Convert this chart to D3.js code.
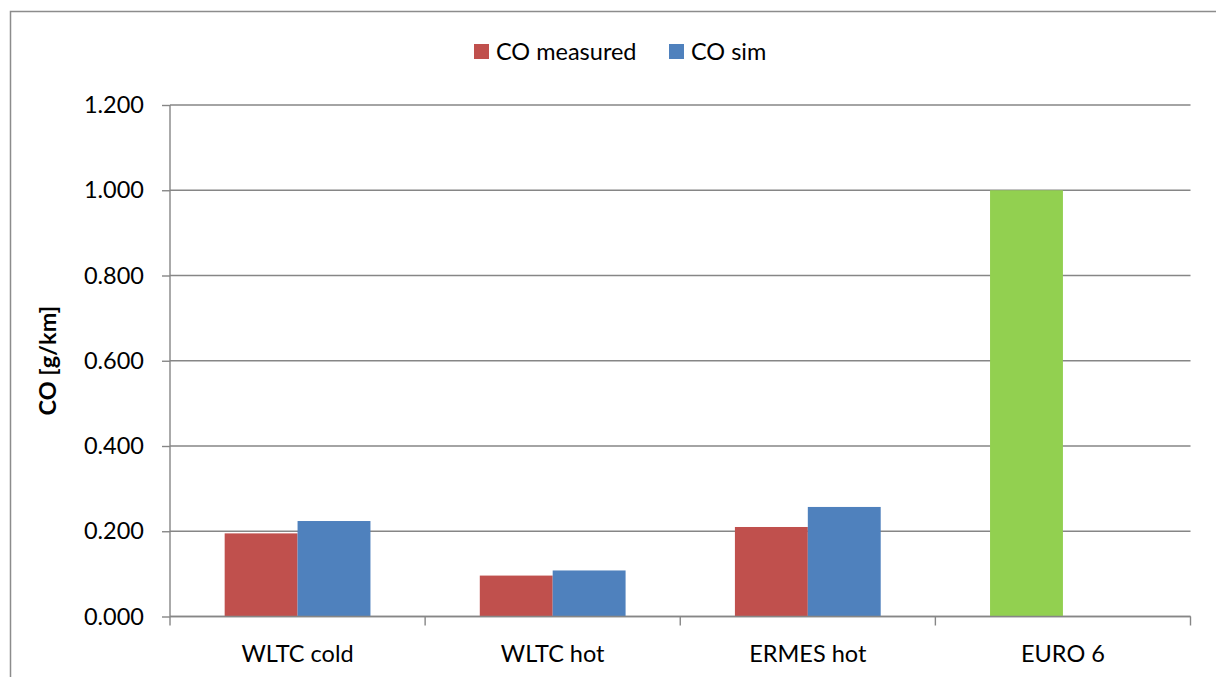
<!DOCTYPE html>
<html>
<head>
<meta charset="utf-8">
<script src="https://cdn.jsdelivr.net/npm/d3@7"></script>
<style>
  html, body { margin: 0; padding: 0; background: #fff; }
  svg { display: block; font-family: Lato, "Open Sans", sans-serif; }
</style>
</head>
<body>
<svg id="chart" width="1216" height="677"></svg>
<script>
// CO emissions per test cycle, g/km
const categories = ["WLTC cold", "WLTC hot", "ERMES hot", "EURO 6"];
const seriesNames = ["CO measured", "CO sim"];
const coMeasured = [0.195, 0.096, 0.210, 1.000];
const coSim = [0.224, 0.108, 0.257, null];
const yTicks = [0, 0.2, 0.4, 0.6, 0.8, 1.0, 1.2];

const seriesColors = ["#c0504d", "#4f81bd"];
const limitColor = "#92d050"; // the EURO 6 limit bar

const svg = d3.select("#chart");
const margin = { left: 170, right: 1190.5, top: 105, bottom: 616.5 };

// outer chart frame (continues past the right and bottom edges)
svg.append("rect")
  .attr("x", 10.5).attr("y", 11.5)
  .attr("width", 1300).attr("height", 800)
  .attr("fill", "none").attr("stroke", "#8c8c8c").attr("stroke-width", 1.5);

const x = d3.scaleBand().domain(categories).range([margin.left, margin.right]).paddingInner(0).paddingOuter(0);
// each category: two bars + gap of 1.5 bar widths
const barW = x.bandwidth() / 3.5;
const xSub = d3.scaleBand().domain(seriesNames)
  .range([x.bandwidth() / 2 - barW, x.bandwidth() / 2 + barW]);

const y = d3.scaleLinear().domain([0, 1.2]).range([margin.bottom, margin.top]);

// gridlines
svg.append("g")
  .selectAll("line").data(yTicks).join("line")
  .attr("x1", margin.left).attr("x2", margin.right)
  .attr("y1", d => y(d)).attr("y2", d => y(d))
  .attr("stroke", "#868686").attr("stroke-width", 1.4);

// bars
const rows = categories.map((c, i) => ({ cat: c, values: [coMeasured[i], coSim[i]] }));
svg.append("g").selectAll("g").data(rows).join("g")
  .attr("transform", d => `translate(${x(d.cat)},0)`)
  .selectAll("rect")
  .data(d => d.values.map((v, j) => ({ cat: d.cat, name: seriesNames[j], v, j })).filter(e => e.v != null))
  .join("rect")
  .attr("x", d => xSub(d.name))
  .attr("width", xSub.bandwidth())
  .attr("y", d => y(d.v))
  .attr("height", d => y(0) - y(d.v))
  .attr("fill", d => d.cat === "EURO 6" ? limitColor : seriesColors[d.j]);

// y axis
const yAxis = d3.axisLeft(y).tickValues(yTicks).tickFormat(d3.format(".3f")).tickSize(8).tickPadding(18);
const gy = svg.append("g").attr("transform", `translate(${margin.left},0)`).call(yAxis);
gy.select(".domain").attr("stroke", "#868686").attr("stroke-width", 1.4).attr("d", `M0,${margin.top}V${margin.bottom}`);
gy.selectAll(".tick line").attr("stroke", "#868686").attr("stroke-width", 1.4);
gy.selectAll(".tick text").attr("font-size", 23.5).attr("fill", "#000").attr("font-family", "Lato");

// x axis: ticks on category boundaries
const boundaries = categories.map(c => x(c)).concat([margin.right]);
svg.append("g").selectAll("line").data(boundaries).join("line")
  .attr("x1", d => d).attr("x2", d => d)
  .attr("y1", margin.bottom).attr("y2", margin.bottom + 9)
  .attr("stroke", "#868686").attr("stroke-width", 1.4);
svg.append("line")
  .attr("x1", margin.left).attr("x2", margin.right)
  .attr("y1", margin.bottom).attr("y2", margin.bottom)
  .attr("stroke", "#868686").attr("stroke-width", 1.4);
svg.append("g").selectAll("text").data(categories).join("text")
  .attr("x", d => x(d) + x.bandwidth() / 2)
  .attr("y", 662)
  .attr("text-anchor", "middle")
  .attr("font-size", 23.5)
  .text(d => d);

// y axis title
svg.append("text")
  .attr("transform", `translate(56,${(margin.top + margin.bottom) / 2}) rotate(-90)`)
  .attr("text-anchor", "middle")
  .attr("font-size", 23.5)
  .attr("font-weight", "bold")
  .text("CO [g/km]");

// legend
const legend = [
  { name: seriesNames[0], color: seriesColors[0], x: 474 },
  { name: seriesNames[1], color: seriesColors[1], x: 669 }
];
const lg = svg.append("g").selectAll("g").data(legend).join("g")
  .attr("transform", d => `translate(${d.x},44)`);
lg.append("rect").attr("width", 15).attr("height", 15).attr("fill", d => d.color);
lg.append("text").attr("x", 22).attr("y", 15.5).attr("font-size", 23.5).text(d => d.name);
</script>
</body>
</html>
